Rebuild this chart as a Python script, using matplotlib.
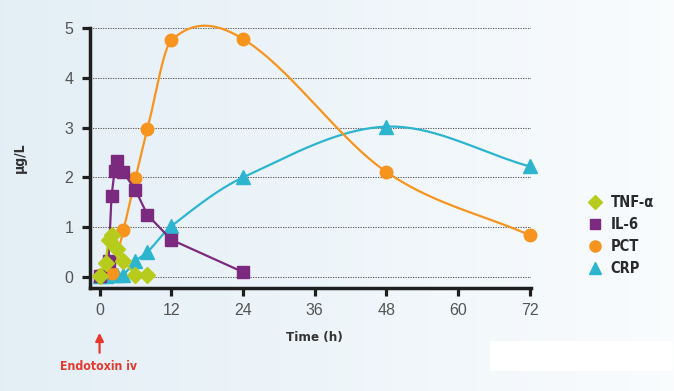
import numpy as np
import matplotlib
matplotlib.use("Agg")
import matplotlib.pyplot as plt
from matplotlib.lines import Line2D
from matplotlib import font_manager

# values (hours, ug/L)
tnf_t = [0, 1, 1.5, 2, 3, 4, 6, 8]
tnf_y = [0.02, 0.28, 0.75, 0.85, 0.56, 0.32, 0.04, 0.05]

il6_t = [0, 1.5, 2, 2.5, 3, 4, 6, 8, 12, 24]
il6_y = [0.02, 0.32, 1.62, 2.12, 2.32, 2.1, 1.75, 1.25, 0.75, 0.1]

pct_t = [0, 2, 4, 6, 8, 12, 24, 48, 72]
pct_y = [0.04, 0.08, 0.95, 1.98, 2.97, 4.75, 4.78, 2.11, 0.84]

crp_t = [0, 1, 2, 3, 4, 6, 8, 12, 24, 48, 72]
crp_y = [0.03, 0.03, 0.04, 0.04, 0.05, 0.32, 0.5, 1.02, 2.0, 3.02, 2.22]

series_names = ["TNF-\u03b1", "IL-6", "PCT", "CRP"]
x_ticks = [0, 12, 24, 36, 48, 60, 72]
y_ticks = [0, 1, 2, 3, 4, 5]

C_TNF = "#b7cb1c"
C_IL6 = "#7b2a7f"
C_PCT = "#f7941e"
C_CRP = "#2db5d0"

# narrow bold font for labels if there is one
names = {f.name for f in font_manager.fontManager.ttflist}
if "Liberation Sans Narrow" in names:
    COND = dict(family=["Liberation Sans Narrow", "DejaVu Sans"])
else:
    COND = dict(family=["DejaVu Sans"], stretch="condensed")
PLAIN = ["Liberation Sans", "DejaVu Sans"]


def smooth(t, y, n=40):
    """cubic hermite through the points, catmull-rom style tangents"""
    t = np.asarray(t, float)
    y = np.asarray(y, float)
    m = np.zeros_like(y)
    m[1:-1] = (y[2:] - y[:-2]) / (t[2:] - t[:-2])
    m[0] = (y[1] - y[0]) / (t[1] - t[0])
    m[-1] = (y[-1] - y[-2]) / (t[-1] - t[-2])
    xs, ys = [], []
    for k in range(len(t) - 1):
        h = t[k + 1] - t[k]
        s = np.linspace(0, 1, n)
        h00 = 2 * s**3 - 3 * s**2 + 1
        h10 = s**3 - 2 * s**2 + s
        h01 = -2 * s**3 + 3 * s**2
        h11 = s**3 - s**2
        xs.append(t[k] + s * h)
        ys.append(h00 * y[k] + h10 * h * m[k] + h01 * y[k + 1] + h11 * h * m[k + 1])
    return np.concatenate(xs), np.concatenate(ys)


fig = plt.figure(figsize=(6.74, 3.91), dpi=100)

# light blue to white background
bg = fig.add_axes([0, 0, 1, 1], zorder=-5)
grad = np.linspace(0, 1, 256)[None, :]
c0 = np.array([0.890, 0.935, 0.962])
c1 = np.array([0.978, 0.988, 0.996])
img = c0[None, None, :] * (1 - grad[..., None]) + c1[None, None, :] * grad[..., None]
bg.imshow(img, aspect="auto", extent=[0, 1, 0, 1])
bg.add_patch(plt.Rectangle((490 / 674, 1 - 371 / 391), 183 / 674, 30 / 391,
                           color="white", lw=0))
bg.set_xlim(0, 1)
bg.set_ylim(0, 1)
bg.axis("off")

W, H = 674, 391
ax = fig.add_axes([90 / W, 1 - 288 / H, (531 - 90) / W, (288 - 28) / H])
ax.set_facecolor("none")
ax.set_xlim(-1.6, 72.2)
ax.set_ylim(-0.22, 5.0)

for yv in y_ticks:
    ax.axhline(yv, color="#5a5a5a", lw=0.75, ls=(0, (1.2, 1.2)), zorder=0)

ms = 9
ax.plot(*smooth(crp_t, crp_y), color=C_CRP, lw=1.6, zorder=2, clip_on=False)
ax.plot(crp_t, crp_y, ls="none", marker="^", ms=ms + 0.5, color=C_CRP, zorder=2, clip_on=False)

ax.plot(*smooth(pct_t, pct_y), color=C_PCT, lw=1.6, zorder=3, clip_on=False)
ax.plot(pct_t, pct_y, ls="none", marker="o", ms=ms, color=C_PCT, zorder=3, clip_on=False)

ax.plot(il6_t, il6_y, color=C_IL6, lw=1.6, marker="s", ms=ms - 0.5, zorder=4, clip_on=False)
ax.plot(tnf_t, tnf_y, color=C_TNF, lw=1.6, marker="D", ms=ms - 1, zorder=5, clip_on=False)

for side in ["top", "right"]:
    ax.spines[side].set_visible(False)
for side in ["left", "bottom"]:
    ax.spines[side].set_linewidth(2.5)
    ax.spines[side].set_color("#1e1e1e")

ax.set_xticks(x_ticks)
ax.set_yticks(y_ticks)
ax.tick_params(axis="both", length=6, width=2.3, color="#1e1e1e",
               labelsize=11.5, labelcolor="#555555")
ax.tick_params(axis="x", pad=5)
ax.tick_params(axis="y", pad=6)
for lab in ax.get_xticklabels() + ax.get_yticklabels():
    lab.set_family(PLAIN)

fig.text(314 / W, 1 - 338 / H, "Time (h)", ha="center", va="center",
         fontsize=9.5, fontweight="bold", color="#333333", **COND)
fig.text(20 / W, 1 - 158 / H, "\u00b5g/L", ha="center", va="center", rotation=90,
         fontsize=10, fontweight="bold", color="#333333", **COND)

# endotoxin arrow
ax.annotate("", xy=(0, -1.12), xytext=(0, -1.52), xycoords="data",
            arrowprops=dict(arrowstyle="-|>", color="#e8382c", lw=1.6,
                            mutation_scale=12, shrinkA=0, shrinkB=0),
            annotation_clip=False)
fig.text(99 / W, 1 - 366 / H, "Endotoxin iv", ha="center", va="center",
         fontsize=8.8, fontweight="bold", color="#e8382c", **COND)

handles = [
    Line2D([], [], ls="none", marker="D", ms=ms - 1.5, color=C_TNF),
    Line2D([], [], ls="none", marker="s", ms=ms - 1.5, color=C_IL6),
    Line2D([], [], ls="none", marker="o", ms=ms - 1, color=C_PCT),
    Line2D([], [], ls="none", marker="^", ms=ms - 0.5, color=C_CRP),
]
leg_prop = {"size": 10.5, "weight": "bold"}
leg_prop.update(COND)
leg = fig.legend(handles, series_names, loc="upper left",
                 bbox_to_anchor=(575 / W, 1 - 182 / H), frameon=False,
                 handlelength=1.0, handletextpad=0.55, labelspacing=0.48,
                 prop=leg_prop)
for txt in leg.get_texts():
    txt.set_color("#2a2a2a")

fig.savefig("out.png", dpi=100)
